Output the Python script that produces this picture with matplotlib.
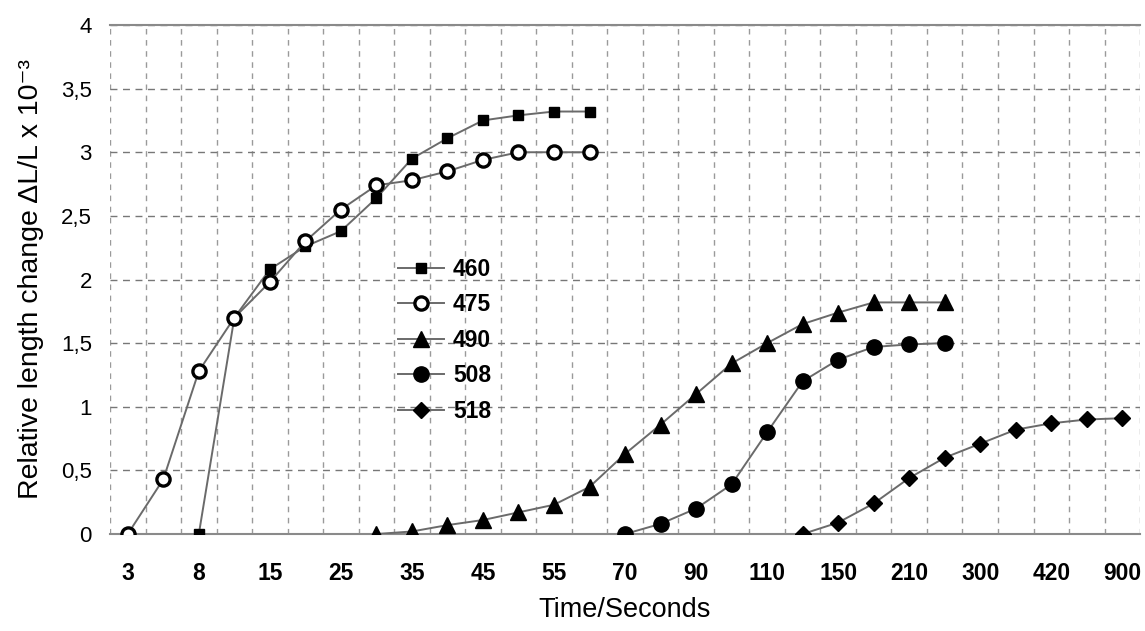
import matplotlib
matplotlib.use('Agg')
import matplotlib.pyplot as plt
import numpy as np

plt.rcParams['font.family'] = ['Liberation Sans', 'DejaVu Sans']

nan = np.nan

# time categories (only every other one is labelled on the chart)
time_labels = ['3', '', '8', '', '15', '', '25', '', '35', '', '45', '', '55', '',
               '70', '', '90', '', '110', '', '150', '', '210', '', '300', '', '420', '', '900']

y_ticks = [0, 0.5, 1, 1.5, 2, 2.5, 3, 3.5, 4]
y_tick_labels = ['0', '0,5', '1', '1,5', '2', '2,5', '3', '3,5', '4']

# relative length change (x 10^-3), one value per time category
s460 = [nan, nan, 0, 1.70, 2.08, 2.26, 2.38, 2.64, 2.95, 3.11, 3.25, 3.29, 3.32, 3.32] + [nan] * 15
s475 = [0, 0.43, 1.28, 1.70, 1.98, 2.30, 2.55, 2.74, 2.78, 2.85, 2.94, 3.00, 3.00, 3.00] + [nan] * 15
s490 = [nan] * 7 + [0, 0.02, 0.07, 0.11, 0.17, 0.23, 0.37, 0.63, 0.86, 1.10, 1.34,
                    1.50, 1.65, 1.74, 1.82, 1.82, 1.82] + [nan] * 5
s508 = [nan] * 14 + [0, 0.08, 0.20, 0.39, 0.80, 1.20, 1.37, 1.47, 1.49, 1.50] + [nan] * 5
s518 = [nan] * 19 + [0, 0.09, 0.24, 0.44, 0.60, 0.71, 0.82, 0.87, 0.90, 0.91]

series_names = ['460', '475', '490', '508', '518']

fig = plt.figure(figsize=(11.45, 6.31), dpi=100)
ax = fig.add_axes([0.0961, 0.1537, 0.8996, 0.8067])

x = np.arange(len(time_labels))
line_col = '#6a6a6a'

# (marker, size, face colour)
styles = [('s', 7, 'black'), ('o', 9.5, 'white'), ('^', 11, 'black'),
          ('o', 11, 'black'), ('D', 8, 'black')]

for vals, name, (mk, ms, fc) in zip([s460, s475, s490, s508, s518], series_names, styles):
    ax.plot(x, vals, color=line_col, linewidth=1.4, marker=mk, markersize=ms,
            markerfacecolor=fc, markeredgecolor='black',
            markeredgewidth=2.4 if fc == 'white' else 1.0, label=name, zorder=3)

ax.set_xlim(-0.5, len(time_labels) - 0.5)
ax.set_ylim(0, 4)

# grid: dashed lines between categories and at every 0.5
ax.set_xticks(np.arange(-0.5, len(time_labels)), minor=True)
ax.grid(True, which='minor', axis='x', color='#9a9a9a', linewidth=1.0, linestyle=(0, (4, 4)))
ax.set_yticks(y_ticks)
ax.set_yticklabels(y_tick_labels)
ax.grid(True, which='major', axis='y', color='#777777', linewidth=1.0, linestyle=(0, (5, 4)))
ax.set_axisbelow(True)

ax.set_xticks(x)
ax.set_xticklabels(time_labels, fontweight='bold')
ax.tick_params(axis='x', which='both', length=0, pad=20, labelsize=16.5)
ax.tick_params(axis='y', length=0, pad=13, labelsize=16)

for side in ['left', 'right']:
    ax.spines[side].set_visible(False)
for side in ['top', 'bottom']:
    ax.spines[side].set_color('#8a8a8a')
    ax.spines[side].set_linewidth(1.5)

ax.set_ylabel('Relative length change ΔL/L x 10⁻³', fontsize=20.5)
ax.yaxis.set_label_coords(-0.064, 0.5)
ax.set_xlabel('Time/Seconds', fontsize=19.5)
ax.xaxis.set_label_coords(0.5, -0.124)

leg = ax.legend(loc='upper left', bbox_to_anchor=(0.2796, 0.543), frameon=False,
                prop={'size': 16.5, 'weight': 'bold'}, handlelength=2.0,
                handletextpad=0.4, labelspacing=0.55, borderpad=0, borderaxespad=0)

fig.savefig('out.png', dpi=100)
